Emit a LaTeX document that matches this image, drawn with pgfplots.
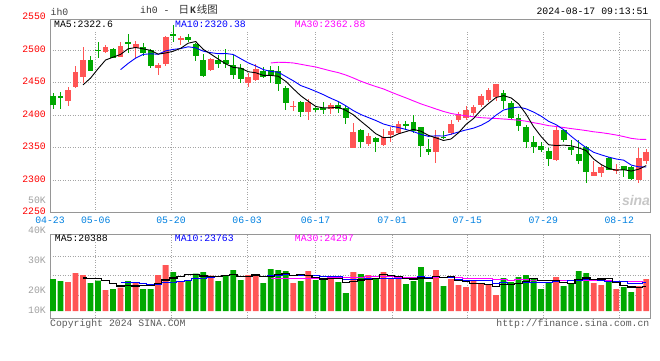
\documentclass[border=0pt]{standalone}
\usepackage{pgfplots}
\pgfplotsset{compat=1.18}
\usepackage{pgfplotstable}
\usepackage{fontspec}
\setmainfont{Liberation Mono}
\newfontfamily\mono{Liberation Mono}
\newfontfamily\cjk{Noto Sans CJK SC}
\newfontfamily\sans{Liberation Sans}
\definecolor{cred}{RGB}{255,85,85}
\definecolor{cgreen}{RGB}{0,168,0}
\definecolor{cblue}{RGB}{0,0,255}
\definecolor{cmag}{RGB}{255,0,255}
\definecolor{cdate}{RGB}{0,128,224}
\definecolor{cframe}{RGB}{150,150,150}
\definecolor{cgrid}{RGB}{165,165,165}
\definecolor{clab}{RGB}{160,160,160}
\newcommand\fs{\fontsize{9.8pt}{10pt}\selectfont}

% red (rising) candles: index, open, high, low, close, volume (K)
\pgfplotstableread{
i o h l c v
2 2421 2443 2414 2438 26.1
3 2443 2476 2442 2466 34.2
4 2458 2505 2450 2485 32.4
7 2497 2507 2496 2505 18.9
9 2490 2513 2489 2506 21.0
11 2503 2514 2488 2509 26.1
14 2472 2480 2462 2477 32.4
15 2478 2521 2475 2520 41.4
17 2517 2522 2507 2518 27.0
21 2470 2488 2467 2486 31.8
26 2449 2465 2443 2458 32.4
27 2454 2479 2452 2471 32.4
32 2413 2421 2406 2414 25.2
34 2404 2424 2392 2420 36.0
37 2410 2418 2401 2415 28.8
40 2350 2388 2349 2374 35.1
42 2355 2372 2352 2368 32.4
44 2354 2379 2353 2367 35.1
45 2369 2381 2358 2376 28.8
46 2372 2391 2371 2386 28.8
51 2344 2377 2327 2367 36.9
53 2372 2393 2370 2387 28.8
54 2393 2405 2389 2401 23.4
55 2395 2414 2392 2408 21.6
56 2403 2416 2400 2413 27.0
57 2415 2433 2413 2429 24.3
58 2423 2442 2420 2438 24.3
59 2428 2447 2421 2447 14.4
67 2331 2381 2329 2377 30.6
72 2307 2330 2306 2312 25.2
73 2311 2325 2305 2320 23.4
75 2314 2325 2309 2317 19.8
78 2300 2349 2295 2334 22.5
79 2330 2348 2325 2344 28.8
}\redtab

% green (falling) candles
\pgfplotstableread{
i o h l c v
0 2429 2434 2410 2416 28.8
1 2429 2436 2409 2427 27.0
5 2485 2490 2467 2468 25.2
6 2500 2513 2487 2499 27.3
8 2501 2503 2487 2488 19.8
10 2512 2525 2495 2511 27.0
12 2505 2510 2490 2495 19.8
13 2500 2502 2473 2476 19.8
16 2525 2539 2513 2522 35.1
18 2520 2524 2513 2515 27.0
19 2509 2511 2483 2490 33.6
20 2485 2494 2458 2460 35.1
22 2485 2492 2472 2479 27.0
23 2484 2501 2472 2479 32.4
24 2477 2492 2455 2462 36.9
25 2472 2479 2450 2455 27.9
28 2468 2474 2457 2459 25.2
29 2470 2475 2450 2462 37.8
30 2467 2475 2437 2448 36.9
31 2442 2444 2408 2419 36.0
33 2420 2421 2397 2405 27.0
35 2411 2413 2404 2408 27.9
36 2411 2420 2401 2408 27.9
38 2415 2420 2403 2409 26.1
39 2411 2414 2387 2396 16.2
41 2377 2379 2349 2359 33.3
43 2365 2367 2344 2359 29.7
47 2386 2391 2377 2385 24.3
48 2389 2400 2372 2376 27.0
49 2381 2382 2335 2353 39.6
50 2348 2364 2338 2344 26.1
52 2367 2376 2363 2365 22.5
60 2434 2438 2409 2422 29.7
61 2419 2422 2393 2396 26.1
62 2396 2401 2376 2383 30.6
63 2382 2385 2350 2359 32.4
64 2359 2368 2341 2351 28.8
65 2353 2358 2343 2346 19.8
66 2345 2349 2321 2333 26.1
68 2377 2378 2359 2362 22.5
69 2351 2362 2338 2346 25.2
70 2340 2362 2325 2330 36.0
71 2351 2353 2295 2312 34.2
74 2334 2336 2315 2316 26.1
76 2321 2322 2305 2315 21.6
77 2320 2322 2301 2302 17.1
}\greentab

% price moving averages
\pgfplotstableread{
i m5 m10 m30
0 nan nan nan
1 nan nan nan
2 nan nan nan
3 nan nan nan
4 2446.4 nan nan
5 2456.8 nan nan
6 2471.2 nan nan
7 2484.6 nan nan
8 2489.0 nan nan
9 2493.2 2469.8 nan
10 2501.8 2479.3 nan
11 2503.8 2487.5 nan
12 2501.8 2493.2 nan
13 2499.4 2494.2 nan
14 2493.6 2493.4 nan
15 2495.4 2498.6 nan
16 2498.0 2500.9 nan
17 2502.6 2502.2 nan
18 2510.4 2504.9 nan
19 2513.0 2503.3 nan
20 2501.0 2498.2 nan
21 2493.8 2495.9 nan
22 2486.0 2494.3 nan
23 2478.8 2494.6 nan
24 2473.2 2493.1 nan
25 2472.2 2486.6 nan
26 2466.6 2480.2 nan
27 2465.0 2475.5 nan
28 2461.0 2469.9 nan
29 2461.0 2467.1 2480.07
30 2459.6 2465.9 2481.13
31 2451.8 2459.2 2480.87
32 2440.4 2452.7 2480.07
33 2429.6 2445.3 2478.03
34 2421.2 2441.1 2475.87
35 2413.2 2436.4 2473.87
36 2411.0 2431.4 2470.83
37 2411.2 2425.8 2467.83
38 2412.0 2420.8 2465.20
39 2407.2 2414.2 2461.53
40 2400.4 2406.8 2456.97
41 2390.6 2400.8 2451.97
42 2381.2 2396.2 2447.73
43 2371.2 2391.6 2443.83
44 2365.4 2386.3 2440.17
45 2365.8 2383.1 2435.37
46 2371.2 2380.9 2430.83
47 2374.6 2377.9 2426.40
48 2378.0 2374.6 2421.77
49 2375.2 2370.3 2417.20
50 2368.8 2367.3 2413.33
51 2365.0 2368.1 2409.37
52 2361.0 2367.8 2405.57
53 2363.2 2370.6 2402.50
54 2372.8 2374.0 2400.47
55 2385.6 2377.2 2398.90
56 2394.8 2379.9 2397.40
57 2407.6 2384.3 2396.00
58 2417.8 2390.5 2395.30
59 2427.0 2399.9 2394.80
60 2429.8 2407.7 2393.93
61 2426.4 2410.6 2393.17
62 2417.2 2412.4 2392.13
63 2401.4 2409.6 2390.60
64 2382.2 2404.6 2388.30
65 2367.0 2398.4 2386.23
66 2354.4 2390.4 2383.73
67 2353.2 2385.2 2382.47
68 2353.8 2377.6 2380.90
69 2352.8 2367.5 2379.23
70 2349.6 2358.3 2377.77
71 2345.4 2349.9 2376.20
72 2332.4 2342.8 2374.33
73 2324.0 2338.9 2373.03
74 2318.0 2335.4 2371.33
75 2315.4 2332.5 2369.37
76 2316.0 2330.7 2367.00
77 2314.0 2323.2 2364.23
78 2316.8 2320.4 2362.83
79 2322.4 2320.2 2362.53
}\matab

% volume moving averages (K)
\pgfplotstableread{
i m5 m10 m30
0 nan nan nan
1 nan nan nan
2 nan nan nan
3 nan nan nan
4 29.70 nan nan
5 28.98 nan nan
6 29.04 nan nan
7 27.60 nan nan
8 24.72 nan nan
9 22.44 26.07 nan
10 22.80 25.89 nan
11 22.56 25.80 nan
12 22.74 25.17 nan
13 22.74 23.73 nan
14 25.02 23.73 nan
15 27.90 25.35 nan
16 29.70 26.13 nan
17 31.14 26.94 nan
18 32.58 27.66 nan
19 32.82 28.92 nan
20 31.56 29.73 nan
21 30.90 30.30 nan
22 30.90 31.02 nan
23 31.98 32.28 nan
24 32.64 32.73 nan
25 31.20 31.38 nan
26 31.32 31.11 nan
27 32.40 31.65 nan
28 30.96 31.47 nan
29 31.14 31.89 28.96
30 32.94 32.07 29.23
31 33.66 32.49 29.53
32 32.22 32.31 29.50
33 32.58 31.77 29.26
34 32.22 31.68 29.38
35 30.42 31.68 29.47
36 28.80 31.23 29.49
37 29.52 30.87 29.82
38 29.34 30.96 30.03
39 25.38 28.80 29.87
40 26.82 28.62 30.14
41 27.90 28.35 30.38
42 28.62 29.07 30.80
43 29.34 29.34 31.13
44 33.12 29.25 31.22
45 31.86 29.34 30.80
46 30.96 29.43 30.59
47 29.34 28.98 30.50
48 28.80 29.07 30.50
49 29.70 31.41 30.70
50 29.16 30.51 30.40
51 30.78 30.87 30.57
52 30.42 29.88 30.42
53 30.78 29.79 30.30
54 27.54 28.62 29.85
55 26.64 27.90 29.64
56 24.66 27.72 29.46
57 25.02 27.72 29.19
58 24.12 27.45 29.16
59 22.32 24.93 28.38
60 23.94 25.29 28.14
61 23.76 24.21 27.81
62 25.02 25.02 27.99
63 26.64 25.38 28.17
64 29.52 25.92 27.93
65 27.54 25.74 27.66
66 27.54 25.65 27.60
67 27.54 26.28 27.66
68 25.56 26.10 27.54
69 24.84 27.18 27.84
70 28.08 27.81 27.87
71 29.70 28.62 27.90
72 28.62 28.08 27.66
73 28.80 27.18 27.45
74 28.98 26.91 27.15
75 25.74 26.91 26.85
76 23.22 26.46 26.61
77 21.60 25.11 26.37
78 21.42 25.11 26.22
79 21.96 25.47 25.86
}\vmatab

\begin{document}
\begin{tikzpicture}
\useasboundingbox (0pt,0pt) rectangle (660pt,360pt);
\pgfplotsset{
  kstyle/.style={
    scale only axis, width=600pt, xmin=-0.4, xmax=79.5,
    axis line style={cframe, line width=1pt},
    major tick length=0pt,
    xtick={-0.4,5.69,15.72,25.85,34.95,45.16,55.16,65.28,75.4},
    grid style={cgrid, line width=0.8pt, dash pattern=on 1pt off 1.5pt},
    xmajorgrids, ymajorgrids,
    tick label style={font=\mono\fs},
  },
  candle/.style 2 args={draw=none, mark=none, error bars/.cd, y dir=both, y explicit, error mark=none,
    error bar style={line width=#1, draw=#2}},
}
% ---------- price panel ----------
\begin{axis}[kstyle, at={(50pt,147.3pt)}, anchor=south west, height=193.7pt,
  ymin=2250, ymax=2547.6,
  ytick={2250,2300,2350,2400,2450,2500},
  yticklabels={2250,2300,2350,2400,2450,2500},
  yticklabel style={red, anchor=east, inner sep=0pt, xshift=-4pt, yshift=1pt},
  xticklabels={04-23,05-06,05-20,06-03,06-17,07-01,07-15,07-29,08-12},
  xticklabel style={cdate, anchor=north, inner sep=0pt, yshift=-4.5pt},
]
\fill[white] ([xshift=0.6pt]rel axis cs:0,0.943) rectangle ([xshift=-0.6pt,yshift=-0.6pt]rel axis cs:1,1);
% wicks
\addplot[candle={1pt}{cred}]
  table[x=i, y expr={(\thisrow{h}+\thisrow{l})/2}, y error expr={(\thisrow{h}-\thisrow{l})/2}] {\redtab};
\addplot[candle={1pt}{cgreen}]
  table[x=i, y expr={(\thisrow{h}+\thisrow{l})/2}, y error expr={(\thisrow{h}-\thisrow{l})/2}] {\greentab};
% bodies
\addplot[candle={5.8pt}{cred}]
  table[x=i, y expr={(\thisrow{o}+\thisrow{c})/2}, y error expr={max(abs(\thisrow{c}-\thisrow{o})/2,0.8)}] {\redtab};
\addplot[candle={5.8pt}{cgreen}]
  table[x=i, y expr={(\thisrow{o}+\thisrow{c})/2}, y error expr={max(abs(\thisrow{c}-\thisrow{o})/2,0.8)}] {\greentab};
% moving averages
\addplot[cmag, line width=0.9pt, mark=none] table[x=i, y=m30] {\matab};
\addplot[cblue, line width=0.9pt, mark=none] table[x=i, y=m10] {\matab};
\addplot[black, line width=0.9pt, mark=none] table[x=i, y=m5] {\matab};
\end{axis}
% ---------- volume panel ----------
\begin{axis}[kstyle, at={(50pt,42pt)}, anchor=south west, height=83.3pt,
  ymin=-6.31, ymax=68.74,
  ytick={13.8,31.8,49.5}, yticklabels={}, xticklabels={},
]
\addplot[ybar, bar width=5.8pt, bar shift=0pt, fill=cred, draw=none] table[x=i, y=v] {\redtab};
\addplot[ybar, bar width=5.8pt, bar shift=0pt, fill=cgreen, draw=none] table[x=i, y=v] {\greentab};
\addplot[cmag, line width=1pt, mark=none, const plot mark mid] table[x=i, y=m30] {\vmatab};
\addplot[cblue, line width=1pt, mark=none, const plot mark mid] table[x=i, y=m10] {\vmatab};
\addplot[black, line width=1.2pt, mark=none, const plot mark mid] table[x=i, y=m5] {\vmatab};
\end{axis}
% ---------- texts ----------
\begin{scope}[every node/.style={inner sep=0pt, font=\mono\fs}]
\node[anchor=west, text=black!75] at (50.5pt,348pt) {ih0};
\node[anchor=west, text=black!80] at (140pt,351pt) {ih0 -\hspace{9pt}{\cjk\fontsize{10.5pt}{11pt}\selectfont 日}\hspace{1pt}{\bfseries K}\hspace{1pt}{\cjk\fontsize{10.5pt}{11pt}\selectfont 线图}};
\node[anchor=east, text=black] at (648.5pt,348.8pt) {2024-08-17 09:13:51};
\node[anchor=east, text=red] at (46pt,344pt) {2550};
\node[anchor=east, text=clab] at (46pt,160pt) {50K};
\node[anchor=east, text=clab] at (46pt,129.3pt) {40K};
\node[anchor=east, text=clab] at (46pt,99.3pt) {30K};
\node[anchor=east, text=clab] at (46pt,70pt) {20K};
\node[anchor=east, text=clab] at (46pt,50pt) {10K};
\node[anchor=west, text=black] at (54pt,336pt) {MA5:2322.6};
\node[anchor=west, text=cblue] at (175pt,336pt) {MA10:2320.38};
\node[anchor=west, text=cmag] at (294.7pt,336pt) {MA30:2362.88};
\node[anchor=west, text=black, fill=white] at (54.7pt,121.3pt) {MA5:20388};
\node[anchor=west, text=cblue, fill=white] at (174.7pt,121.3pt) {MA10:23763};
\node[anchor=west, text=cmag, fill=white] at (294.7pt,121.3pt) {MA30:24297};
\node[anchor=west, text=black!65] at (50pt,36.5pt) {Copyright 2024 SINA.COM};
\node[anchor=east, text=black!65] at (649.5pt,36pt) {http://finance.sina.com.cn};
\node[text=black!22, font=\sans\bfseries\itshape\fontsize{14pt}{14pt}\selectfont] at (636pt,160pt) {sina};
\end{scope}
\end{tikzpicture}
\end{document}
